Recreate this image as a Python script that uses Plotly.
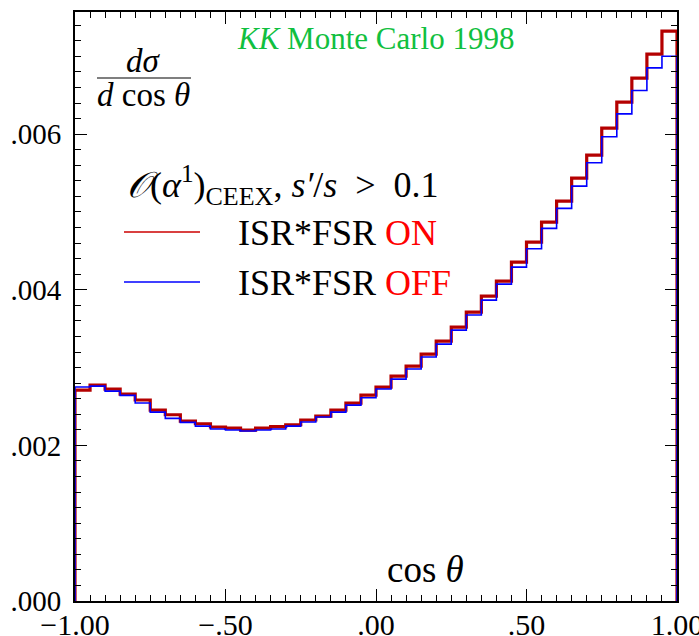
import numpy as np
import plotly.graph_objects as go

# bin edges of cos(theta): 40 bins of width 0.05
bin_lo = -1.0
bin_hi = 1.0
n_bins = 40

# ISR*FSR ON (red)
on_vals = [2.711, 2.775, 2.724, 2.660, 2.583, 2.454, 2.394, 2.313, 2.278, 2.236,
           2.223, 2.197, 2.223, 2.240, 2.265, 2.326, 2.377, 2.454, 2.544, 2.647,
           2.750, 2.891, 3.019, 3.174, 3.341, 3.520, 3.713, 3.919, 4.112, 4.356,
           4.613, 4.870, 5.139, 5.435, 5.730, 6.077, 6.411, 6.720, 7.028, 7.324]
# ISR*FSR OFF (blue)
off_vals = [2.750, 2.762, 2.698, 2.643, 2.544, 2.428, 2.347, 2.296, 2.248, 2.210,
            2.197, 2.184, 2.197, 2.210, 2.248, 2.300, 2.364, 2.428, 2.518, 2.612,
            2.724, 2.852, 2.981, 3.135, 3.302, 3.482, 3.675, 3.867, 4.073, 4.291,
            4.527, 4.789, 5.046, 5.332, 5.632, 5.966, 6.261, 6.562, 6.852, 7.002]
scale = 1e-3

x_tickvals = [-1.0, -0.5, 0.0, 0.5, 1.0]
x_ticktext = ["\u22121.00", "\u2212.50", ".00", ".50", "1.00"]
y_tickvals = [0.0, 0.002, 0.004, 0.006]
y_ticktext = [".000", ".002", ".004", ".006"]

edges = np.linspace(bin_lo, bin_hi, n_bins + 1)

def step_xy(vals):
    v = [x * scale for x in vals]
    xs = [edges[0]] + list(edges[:-1]) + [edges[-1], edges[-1]]
    ys = [0.0] + v + [v[-1], 0.0]
    return xs, ys

W, H = 699, 636
L, R, T, B = 75, 677, 12, 601
def px(x):
    return (x - L) / (R - L)
def py(y):
    return (B - y) / (B - T)

FONT = "Liberation Serif, DejaVu Serif, serif"
fig = go.Figure()
xo, yo = step_xy(on_vals)
fig.add_trace(go.Scatter(x=xo, y=yo, mode="lines", line=dict(color="#b40000", width=3.2, shape="hv"),
                         showlegend=False, hoverinfo="skip"))
xf, yf = step_xy(off_vals)
fig.add_trace(go.Scatter(x=xf, y=yf, mode="lines", line=dict(color="#0000ff", width=1.6, shape="hv"),
                         showlegend=False, hoverinfo="skip"))

axis_common = dict(showgrid=False, zeroline=False, showline=True, linecolor="black", linewidth=2,
                   mirror="allticks", ticks="inside", ticklen=12, tickwidth=1.3, tickcolor="black",
                   automargin=False, ticklabeloverflow="allow")
fig.update_xaxes(range=[-1, 1], tickmode="array", tickvals=x_tickvals, ticktext=x_ticktext,
                 ticklabelstandoff=-4, tickfont=dict(family=FONT, size=30, color="black"),
                 minor=dict(dtick=0.05, ticks="inside", ticklen=6, tickwidth=1, tickcolor="black"),
                 **axis_common)
fig.update_yaxes(range=[0, 0.00757], tickmode="array", tickvals=y_tickvals, ticktext=y_ticktext,
                 ticklabelstandoff=6, tickfont=dict(family=FONT, size=29, color="black"),
                 minor=dict(dtick=0.0002, ticks="inside", ticklen=6, tickwidth=1, tickcolor="black"),
                 **axis_common)

ann = []
def text(x, y, s, size, color="black", xanchor="center"):
    ann.append(dict(x=px(x), y=py(y), xref="paper", yref="paper", text=s, showarrow=False,
                    xanchor=xanchor, yanchor="middle", font=dict(family=FONT, size=size, color=color)))

text(375, 39, "<i>KK</i> Monte Carlo 1998", 31, color="#10c040")
text(143, 61, "<i>d\u03c3</i>", 33)
text(143, 95, "<i>d</i> cos <i>\u03b8</i>", 33)
text(125, 185, "<i>\U0001d4aa</i>(<i>\u03b1</i><sup>1</sup>)<sub><span style='font-size:26px'>CEEX</span></sub>, "
               "<i>s\u2032</i>/<i>s</i> &nbsp;&gt;&nbsp; 0.1", 36, xanchor="left")
text(236, 233, "ISR*FSR <span style='color:#ff0000'>ON</span>", 36, xanchor="left")
text(236, 283, "ISR*FSR <span style='color:#ff0000'>OFF</span>", 36, xanchor="left")
text(425, 569, "cos <i>\u03b8</i>", 37)

shapes = [
    dict(type="line", xref="paper", yref="paper", x0=px(97), x1=px(191), y0=py(78), y1=py(78),
         line=dict(color="black", width=1.2)),
    dict(type="line", xref="paper", yref="paper", x0=px(124), x1=px(200), y0=py(232), y1=py(232),
         line=dict(color="#cc0000", width=1.3)),
    dict(type="line", xref="paper", yref="paper", x0=px(124), x1=px(200), y0=py(282), y1=py(282),
         line=dict(color="#0000ff", width=1.3)),
]

fig.update_layout(width=W, height=H, margin=dict(l=L, r=W - R, t=T, b=H - B),
                  plot_bgcolor="white", paper_bgcolor="white", annotations=ann, shapes=shapes,
                  showlegend=False)
fig.write_html("out.html", config={"displayModeBar": False},
               post_script="document.body.style.margin='0';document.body.style.overflow='hidden';")
